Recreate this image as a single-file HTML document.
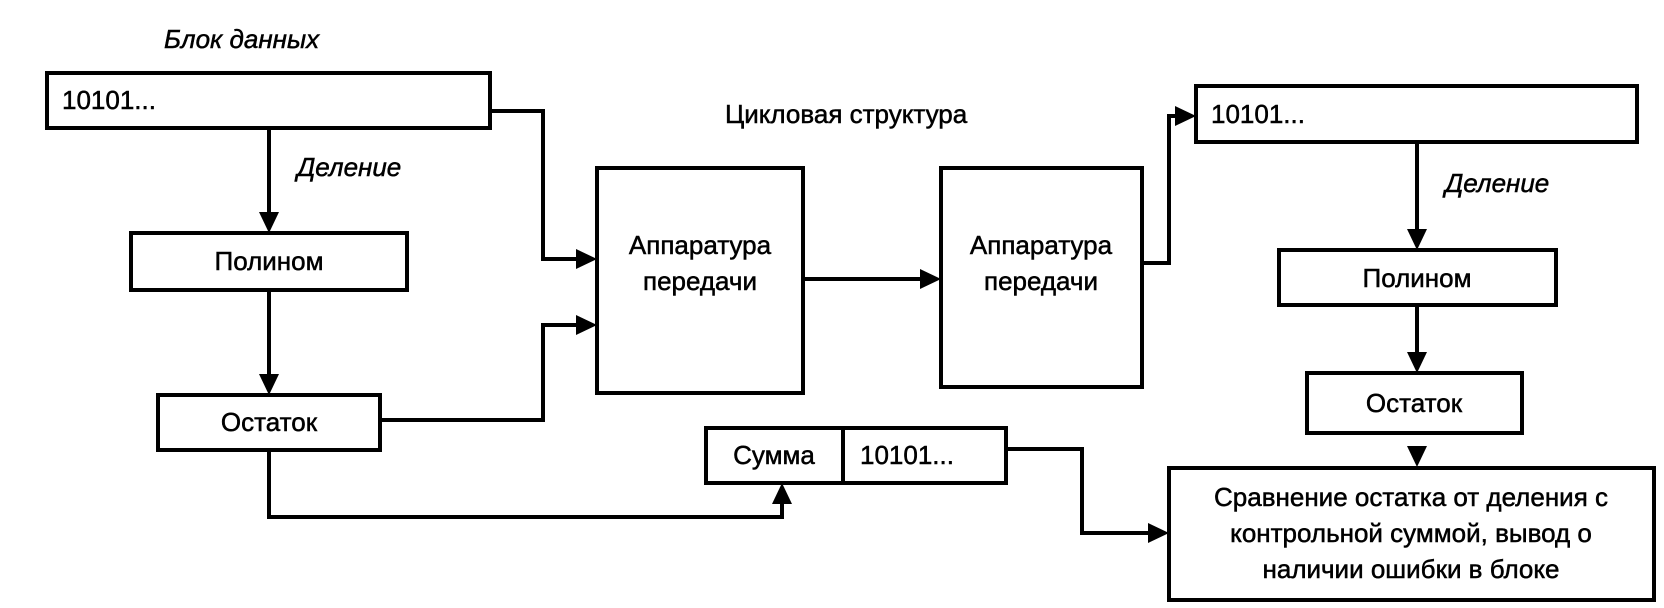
<!DOCTYPE html>
<html><head><meta charset="utf-8"><style>
html,body{margin:0;padding:0;background:#fff;}
svg{display:block;}
text{font-family:"Liberation Sans",Arial,sans-serif;font-size:26px;fill:#000;stroke:#000;stroke-width:0.5px;}
.i{font-style:italic;}
</style></head><body>
<svg width="1664" height="608" viewBox="0 0 1664 608" xmlns="http://www.w3.org/2000/svg">
<g fill="none" stroke="#000" stroke-width="4">
<rect x="47" y="73" width="443" height="55"/>
<rect x="131" y="233" width="276" height="57"/>
<rect x="158" y="395" width="222" height="55"/>
<rect x="597" y="168" width="206" height="225"/>
<rect x="941" y="168" width="201" height="219"/>
<rect x="706" y="428" width="300" height="55"/>
<line x1="843" y1="428" x2="843" y2="483"/>
<rect x="1196" y="86" width="441" height="56"/>
<rect x="1279" y="250" width="277" height="55"/>
<rect x="1307" y="373" width="215" height="60"/>
<rect x="1169" y="468" width="485" height="132"/>
<polyline points="269,128 269,214"/>
<polyline points="269,290 269,376"/>
<polyline points="269,450 269,517 782,517 782,502"/>
<polyline points="490,111 543,111 543,259 578,259"/>
<polyline points="380,420 543,420 543,325 578,325"/>
<polyline points="803,279 922,279"/>
<polyline points="1142,263 1169,263 1169,116 1177,116"/>
<polyline points="1417,142 1417,231"/>
<polyline points="1417,305 1417,354"/>
<polyline points="1006,449 1082,449 1082,533 1150,533"/>
</g>
<g fill="#000">
<polygon points="259,212 279,212 269,233"/>
<polygon points="259,374 279,374 269,395"/>
<polygon points="772,504 792,504 782,483"/>
<polygon points="576,249 576,269 597,259"/>
<polygon points="576,315 576,335 597,325"/>
<polygon points="920,269 920,289 941,279"/>
<polygon points="1175,106 1175,126 1196,116"/>
<polygon points="1407,229 1427,229 1417,250"/>
<polygon points="1407,352 1427,352 1417,373"/>
<polygon points="1407,446 1427,446 1417,467"/>
<polygon points="1148,523 1148,543 1169,533"/>
</g>
<text class="i" x="164" y="48">Блок данных</text>
<text x="62" y="109">10101...</text>
<text class="i" x="297" y="176">Деление</text>
<text x="269" y="270" text-anchor="middle">Полином</text>
<text x="269" y="431" text-anchor="middle">Остаток</text>
<text x="725" y="123">Цикловая структура</text>
<text x="700" y="254" text-anchor="middle">Аппаратура</text>
<text x="700" y="290" text-anchor="middle">передачи</text>
<text x="1041" y="254" text-anchor="middle">Аппаратура</text>
<text x="1041" y="290" text-anchor="middle">передачи</text>
<text x="774" y="464" text-anchor="middle">Сумма</text>
<text x="860" y="464">10101...</text>
<text x="1211" y="123">10101...</text>
<text class="i" x="1445" y="192">Деление</text>
<text x="1417" y="287" text-anchor="middle">Полином</text>
<text x="1414" y="412" text-anchor="middle">Остаток</text>
<text x="1411" y="506" text-anchor="middle">Сравнение остатка от деления с</text>
<text x="1411" y="542" text-anchor="middle">контрольной суммой, вывод о</text>
<text x="1411" y="578" text-anchor="middle">наличии ошибки в блоке</text>
</svg>
</body></html>
